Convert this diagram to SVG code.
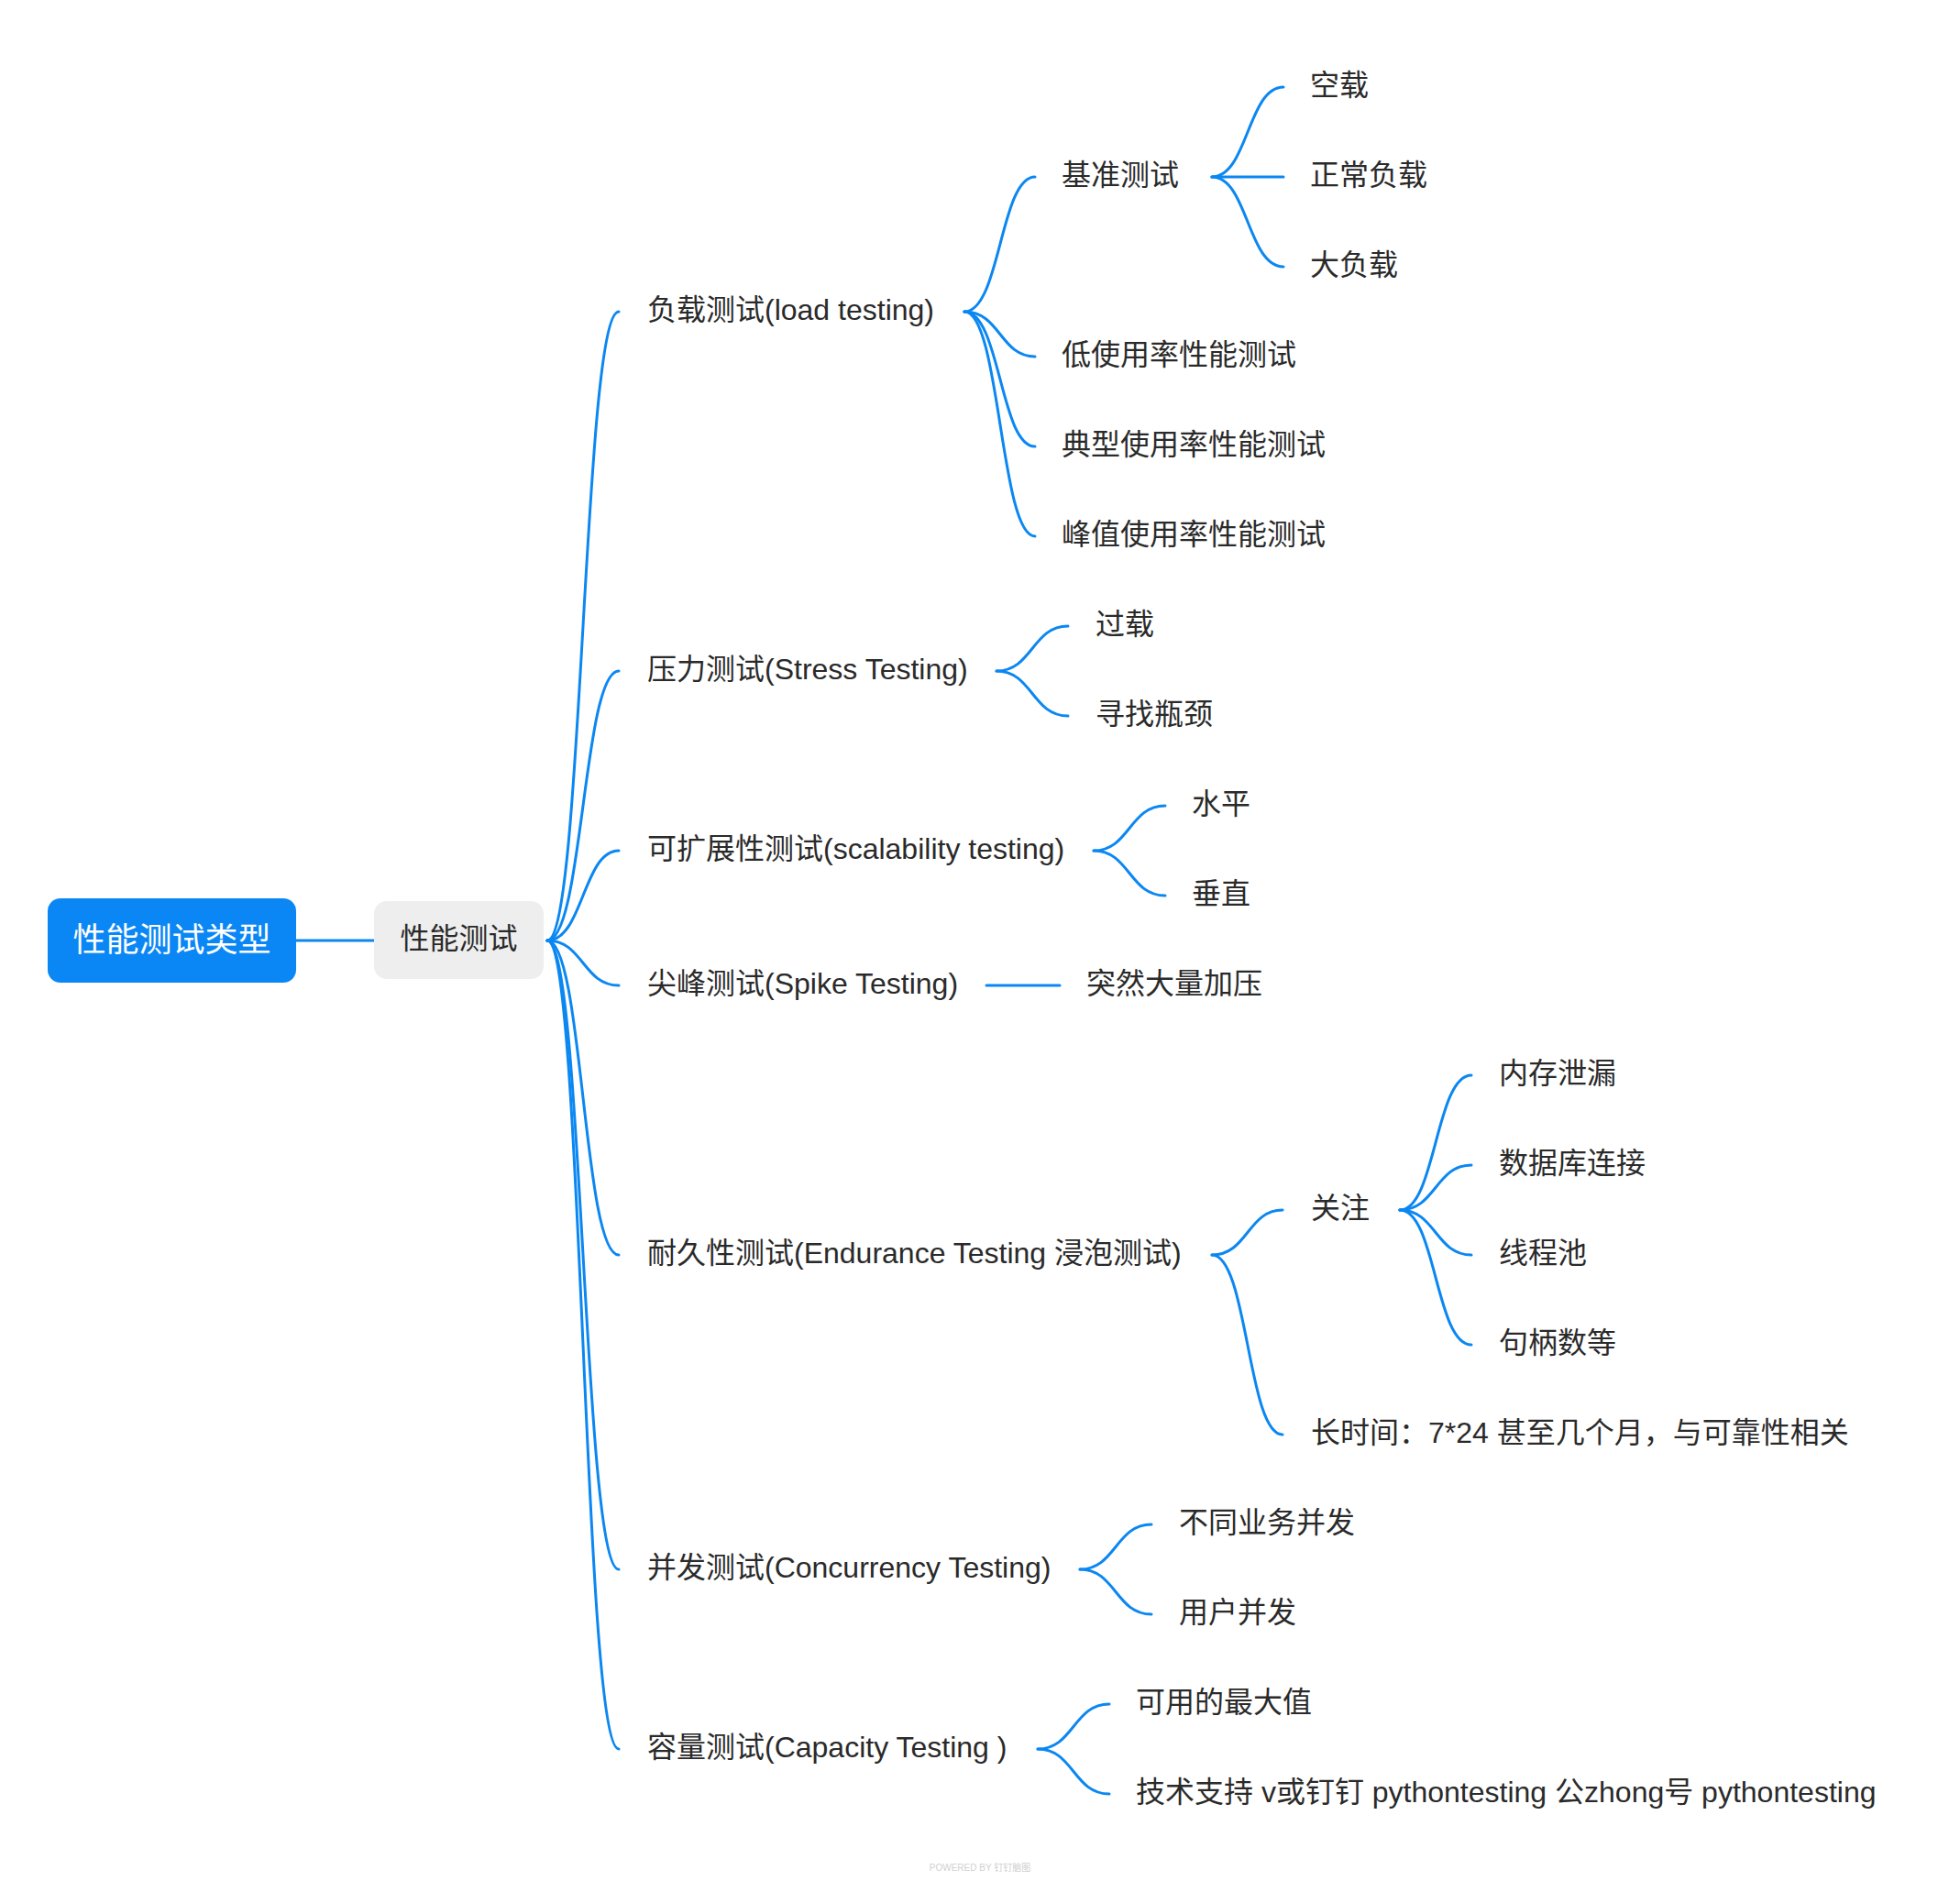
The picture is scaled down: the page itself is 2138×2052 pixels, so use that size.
<svg xmlns="http://www.w3.org/2000/svg" width="2138" height="2052" viewBox="0 0 2138 2052">
<style>
text{font-family:"Liberation Sans","Noto Sans CJK SC",sans-serif;font-size:32px;fill:#2a2a2a}
.c{fill:none;stroke:#0B87F2;stroke-width:3;stroke-linecap:round}
.root{fill:#0B87F5}
.rt{fill:#ffffff;font-size:36px}
.sub{fill:#EEEEEE}
.wm{font-size:10px;fill:#D0D0D0}
</style>
<rect width="2138" height="2052" fill="#ffffff"/>
<g id="connectors">
<path class="c" d="M323,1026 H408"/>
<path class="c" d="M597,1026 C636,1026 636,340 675,340"/>
<path class="c" d="M597,1026 C636,1026 636,732 675,732"/>
<path class="c" d="M597,1026 C636,1026 636,928 675,928"/>
<path class="c" d="M597,1026 C636,1026 636,1075 675,1075"/>
<path class="c" d="M597,1026 C636,1026 636,1369 675,1369"/>
<path class="c" d="M597,1026 C636,1026 636,1712 675,1712"/>
<path class="c" d="M597,1026 C636,1026 636,1908 675,1908"/>
<path class="c" d="M1052,340 C1091,340 1091,193 1129,193"/>
<path class="c" d="M1052,340 C1091,340 1091,389 1129,389"/>
<path class="c" d="M1052,340 C1091,340 1091,487 1129,487"/>
<path class="c" d="M1052,340 C1091,340 1091,585 1129,585"/>
<path class="c" d="M1322,193 C1361,193 1361,95 1400,95"/>
<path class="c" d="M1322,193 H1400"/>
<path class="c" d="M1322,193 C1361,193 1361,291 1400,291"/>
<path class="c" d="M1087,732 C1126,732 1126,683 1165,683"/>
<path class="c" d="M1087,732 C1126,732 1126,781 1165,781"/>
<path class="c" d="M1193,928 C1232,928 1232,879 1271,879"/>
<path class="c" d="M1193,928 C1232,928 1232,977 1271,977"/>
<path class="c" d="M1076,1075 H1156"/>
<path class="c" d="M1322,1369 C1361,1369 1361,1320 1399,1320"/>
<path class="c" d="M1322,1369 C1361,1369 1361,1565 1399,1565"/>
<path class="c" d="M1527,1320 C1566,1320 1566,1173 1605,1173"/>
<path class="c" d="M1527,1320 C1566,1320 1566,1271 1605,1271"/>
<path class="c" d="M1527,1320 C1566,1320 1566,1369 1605,1369"/>
<path class="c" d="M1527,1320 C1566,1320 1566,1467 1605,1467"/>
<path class="c" d="M1178,1712 C1217,1712 1217,1663 1256,1663"/>
<path class="c" d="M1178,1712 C1217,1712 1217,1761 1256,1761"/>
<path class="c" d="M1132,1908 C1171,1908 1171,1859 1210,1859"/>
<path class="c" d="M1132,1908 C1171,1908 1171,1957 1210,1957"/>
</g>
<g id="root"><rect class="root" x="52" y="980" width="271" height="92" rx="14"/><text class="rt" x="187.5" y="1038" text-anchor="middle">性能测试类型</text></g>
<g id="perf"><rect class="sub" x="408" y="983" width="185" height="85" rx="14"/><text x="500.5" y="1035" text-anchor="middle">性能测试</text></g>
<g id="load"><text x="706" y="349">负载测试(load testing)</text></g>
<g id="baseline"><text x="1158" y="202">基准测试</text></g>
<g id="empty"><text x="1429" y="104">空载</text></g>
<g id="normal"><text x="1429" y="202">正常负载</text></g>
<g id="heavy"><text x="1429" y="300">大负载</text></g>
<g id="low"><text x="1158" y="398">低使用率性能测试</text></g>
<g id="typical"><text x="1158" y="496">典型使用率性能测试</text></g>
<g id="peak"><text x="1158" y="594">峰值使用率性能测试</text></g>
<g id="stress"><text x="706" y="741">压力测试(Stress Testing)</text></g>
<g id="overload"><text x="1195" y="692">过载</text></g>
<g id="bottleneck"><text x="1195" y="790">寻找瓶颈</text></g>
<g id="scal"><text x="706" y="937">可扩展性测试(scalability testing)</text></g>
<g id="horiz"><text x="1300" y="888">水平</text></g>
<g id="vert"><text x="1300" y="986">垂直</text></g>
<g id="spike"><text x="706" y="1084">尖峰测试(Spike Testing)</text></g>
<g id="sudden"><text x="1185" y="1084">突然大量加压</text></g>
<g id="endurance"><text x="706" y="1378">耐久性测试(Endurance Testing 浸泡测试)</text></g>
<g id="focus"><text x="1430" y="1329">关注</text></g>
<g id="memleak"><text x="1635" y="1182">内存泄漏</text></g>
<g id="dbconn"><text x="1635" y="1280">数据库连接</text></g>
<g id="threadpool"><text x="1635" y="1378">线程池</text></g>
<g id="handles"><text x="1635" y="1476">句柄数等</text></g>
<g id="longtime"><text x="1430" y="1574">长时间：7*24 甚至几个月，与可靠性相关</text></g>
<g id="concurrency"><text x="706" y="1721">并发测试(Concurrency Testing)</text></g>
<g id="diffbiz"><text x="1286" y="1672">不同业务并发</text></g>
<g id="userconc"><text x="1286" y="1770">用户并发</text></g>
<g id="capacity"><text x="706" y="1917">容量测试(Capacity Testing )</text></g>
<g id="maxval"><text x="1239" y="1868">可用的最大值</text></g>
<g id="support"><text x="1239" y="1966">技术支持 v或钉钉 pythontesting 公zhong号 pythontesting</text></g>
<text class="wm" x="1069" y="2041" text-anchor="middle">POWERED BY 钉钉脑图</text>
</svg>
